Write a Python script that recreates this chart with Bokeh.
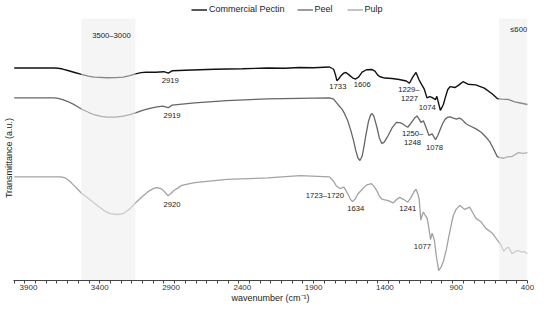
from bokeh.plotting import figure
from bokeh.models import Range1d, FixedTicker, ColumnDataSource, Legend, LegendItem
from bokeh.core.properties import value
from bokeh.embed import file_html
from bokeh.resources import INLINE

FONT = "Liberation Sans"

# ---- data (wavenumber in cm^-1, transmittance in arbitrary units) ----
pectin_w = [4000, 3720, 3692, 3660, 3624, 3576, 3528, 3480, 3440, 3350, 3290, 3236, 3190, 3149, 3110,
            3076, 3008, 2950, 2919, 2890, 2800, 2597, 2400, 2221, 2100, 2000, 1900, 1789, 1760,
            1748, 1737, 1725, 1710, 1690, 1673, 1650, 1625, 1605, 1585, 1560, 1530, 1490, 1470,
            1450, 1434, 1400, 1350, 1300, 1250, 1228, 1205, 1182, 1160, 1145, 1125, 1105, 1085,
            1071, 1045, 1036, 1011, 990, 977, 960, 943, 909, 880, 852, 818, 763, 703, 646, 612,
            580, 532, 489, 450, 400]
pectin_t = [217.3, 217.3, 217.0, 216.2, 214.7, 212.7, 210.7, 209.0, 208.0, 207.3, 207.4, 208.0, 209.5, 211.3, 212.5,
            213.0, 213.0, 213.5, 212.0, 214.5, 215.0, 216.0, 216.5, 217.3, 217.0, 217.8, 217.5, 218.3, 216.0,
            211.0, 204.3, 206.0, 209.0, 212.0, 212.7, 210.0, 207.0, 206.0, 208.0, 213.0, 215.5, 215.7, 214.0,
            210.0, 208.3, 207.0, 206.5, 205.5, 204.0, 201.7, 208.0, 212.7, 205.0, 201.0, 196.0, 186.7, 188.0,
            187.3, 185.0, 188.3, 174.0, 180.0, 186.7, 195.0, 198.3, 197.3, 200.0, 203.3, 200.7, 200.0, 196.7, 190.7, 186.0,
            185.5, 185.0, 182.7, 181.5, 180.0]

peel_w = [4000, 3720, 3692, 3660, 3624, 3576, 3528, 3480, 3440, 3390, 3350, 3290, 3236, 3190, 3149,
          3110, 3076, 3040, 3008, 2960, 2919, 2893, 2734, 2508, 2221, 1789, 1760, 1730, 1700,
          1687, 1660, 1639, 1620, 1605, 1590, 1575, 1560, 1548, 1536, 1515, 1500, 1490, 1478,
          1456, 1440, 1422, 1405, 1390, 1377, 1350, 1319, 1295, 1274, 1255, 1240, 1222, 1206,
          1190, 1175, 1160, 1148, 1130, 1110, 1091, 1069, 1055, 1045, 1030, 1011, 995, 977,
          960, 943, 920, 898, 880, 863, 829, 795, 761, 725, 692, 665, 646, 630, 612, 590,
          566, 540, 509, 490, 464, 430, 400]
peel_t = [186.7, 186.7, 186.3, 185.0, 183.0, 179.5, 175.3, 172.0, 169.5, 167.8, 167.0, 167.0, 168.0, 169.5, 171.3,
          173.5, 175.0, 176.3, 177.3, 178.3, 176.7, 179.3, 181.7, 184.0, 185.7, 186.7, 185.5, 180.0, 175.0,
          171.7, 163.0, 153.3, 143.0, 133.3, 125.5, 122.7, 127.0, 136.0, 146.7, 163.0, 169.5, 170.7, 168.0,
          156.7, 146.0, 140.0, 141.5, 145.0, 148.3, 156.0, 161.7, 161.5, 160.0, 158.0, 156.7, 160.0, 163.3,
          166.5, 168.3, 165.0, 161.7, 163.3, 156.0, 148.3, 150.0, 146.5, 144.0, 148.0, 155.0, 160.5, 165.0,
          167.0, 167.3, 166.0, 165.0, 166.0, 165.0, 160.0, 157.5, 155.0, 151.5, 146.7, 142.0, 136.7, 132.0, 126.7, 125.5,
          125.0, 126.5, 126.7, 128.5, 130.7, 130.0, 130.7]

pulp_w = [4000, 3672, 3644, 3612, 3576, 3533, 3473, 3418, 3370, 3327, 3281, 3236, 3192, 3145, 3097,
          3053, 3021, 2996, 2973, 2951, 2921, 2901, 2882, 2825, 2734, 2508, 2221, 1995, 1789,
          1760, 1741, 1720, 1707, 1695, 1685, 1660, 1640, 1627, 1610, 1590, 1559, 1530, 1495,
          1475, 1456, 1440, 1422, 1400, 1377, 1342, 1320, 1297, 1270, 1240, 1215, 1195, 1182,
          1170, 1160, 1148, 1138, 1130, 1117, 1103, 1090, 1080, 1069, 1060, 1052, 1040, 1023,
          1005, 989, 970, 954, 935, 920, 900, 874, 840, 806, 785, 760, 726, 692, 646, 615,
          590, 566, 548, 532, 509, 485, 464, 440, 420, 400]
pulp_t = [106.0, 106.0, 105.0, 101.7, 96.5, 90.0, 83.0, 76.7, 71.5, 68.3, 67.5, 68.3, 73.0, 80.0, 86.5,
          91.7, 94.2, 95.0, 94.0, 91.7, 86.7, 89.0, 91.7, 97.3, 100.0, 103.3, 105.0, 107.3, 106.0,
          101.5, 96.7, 94.5, 94.0, 95.5, 95.0, 88.5, 82.5, 80.7, 83.0, 88.5, 93.3, 97.5, 99.0,
          96.0, 91.7, 86.5, 83.3, 82.5, 81.7, 79.3, 82.5, 85.0, 83.0, 80.0, 85.5, 91.0, 93.3,
          89.0, 83.3, 61.7, 67.5, 70.0, 66.5, 63.3, 52.0, 41.7, 48.3, 44.5, 40.0, 25.5, 10.0,
          14.0, 20.0, 31.0, 43.3, 57.0, 66.7, 73.0, 76.7, 72.7, 75.0, 69.5, 63.3, 60.0, 53.3, 48.3, 42.0,
          37.3, 30.0, 33.0, 34.0, 27.3, 29.5, 30.7, 29.0, 29.5, 27.3]

series_names = ["Commercial Pectin", "Peel", "Pulp"]
series_colors = ["#111111", "#666666", "#a3a3a3"]

# highlighted spectral regions
shade_left = [3530, 600]
shade_right = [3150, 400]
shade_top = 268
shade_text = ["3500\u20133000", "\u2264600"]
shade_text_w = [3318, 462]
shade_text_t = [251, 257]

# peak annotations
peak_text = ["2919", "2919", "2920", "1733", "1606", "1229\u2013", "1227", "1074",
             "1250\u2013", "1248", "1078", "1723\u20131720", "1634", "1241", "1077"]
peak_w = [2905, 2893, 2893, 1730, 1559, 1232, 1228, 1103,
          1206, 1206, 1052, 1821, 1605, 1240, 1137]
peak_t = [205, 168.3, 77.7, 198.3, 200.7, 195.7, 186, 177.3,
          150.7, 140.7, 136, 86.7, 73.3, 74, 35]

tick_values = [3900, 3400, 2900, 2400, 1900, 1400, 900, 400]
minor_tick_values = [4000 - 75 * k for k in range(49)]
x_title = "wavenumber (cm\u207b\u00b9)"
y_title = "Transmittance (a.u.)"

# ---- figure ----
p = figure(width=534, height=305, output_backend="svg", toolbar_location=None,
           x_range=Range1d(4005, 400), y_range=Range1d(0, 286.3),
           min_border_left=0, min_border_right=7, min_border_top=0, min_border_bottom=0)
p.outline_line_color = None
p.grid.visible = False

renderers = []
for w, t, c, lw in zip([pectin_w, peel_w, pulp_w], [pectin_t, peel_t, pulp_t], series_colors, [1.4, 1.3, 1.3]):
    renderers.append(p.line(w, t, line_color=c, line_width=lw))

p.quad(left=shade_left, right=shade_right, bottom=0, top=shade_top,
       fill_color="#ececec", fill_alpha=0.55, line_color=None)

p.text(x=shade_text_w, y=shade_text_t, text=shade_text, text_font=value(FONT),
       text_font_size=value("7.7px"), text_align="center", text_baseline="middle", text_color="#222222")

src = ColumnDataSource(dict(x=peak_w, y=peak_t, text=peak_text))
p.text(x="x", y="y", text="text", source=src, text_font=value(FONT),
       text_font_size=value("7.7px"), text_align="center", text_baseline="middle", text_color="#222222")

legend = Legend(items=[LegendItem(label=n, renderers=[r]) for n, r in zip(series_names, renderers)],
                orientation="horizontal", location=(178, 266),
                label_text_font=FONT, label_text_font_size="9px", label_text_color="#222222",
                glyph_width=16, glyph_height=9, label_height=9, label_standoff=2, spacing=12,
                padding=0, margin=0, border_line_color=None, background_fill_alpha=0)
p.add_layout(legend)

xa = p.xaxis[0]
xa.ticker = FixedTicker(ticks=tick_values, minor_ticks=minor_tick_values)
xa.major_tick_line_color = None
xa.major_tick_out = 0
xa.major_tick_in = 0
xa.minor_tick_out = 3
xa.minor_tick_in = 0
xa.minor_tick_line_color = "#444444"
xa.axis_line_color = "#444444"
xa.major_label_standoff = 1
xa.major_label_text_font = FONT
xa.major_label_text_font_size = "8px"
xa.major_label_text_color = "#333333"
xa.axis_label = x_title
xa.axis_label_text_font = FONT
xa.axis_label_text_font_size = "9px"
xa.axis_label_text_font_style = "normal"
xa.axis_label_text_color = "#222222"
xa.axis_label_standoff = 0

ya = p.yaxis[0]
ya.ticker = FixedTicker(ticks=[])
ya.axis_line_color = None
ya.major_tick_out = 0
ya.minor_tick_out = 0
ya.major_label_standoff = 0
ya.axis_label = y_title + "\u00a0" * 14
ya.axis_label_text_font = FONT
ya.axis_label_text_font_size = "9px"
ya.axis_label_text_font_style = "normal"
ya.axis_label_text_color = "#222222"
ya.axis_label_standoff = 0

open("out.html", "w").write(file_html(p, INLINE))
